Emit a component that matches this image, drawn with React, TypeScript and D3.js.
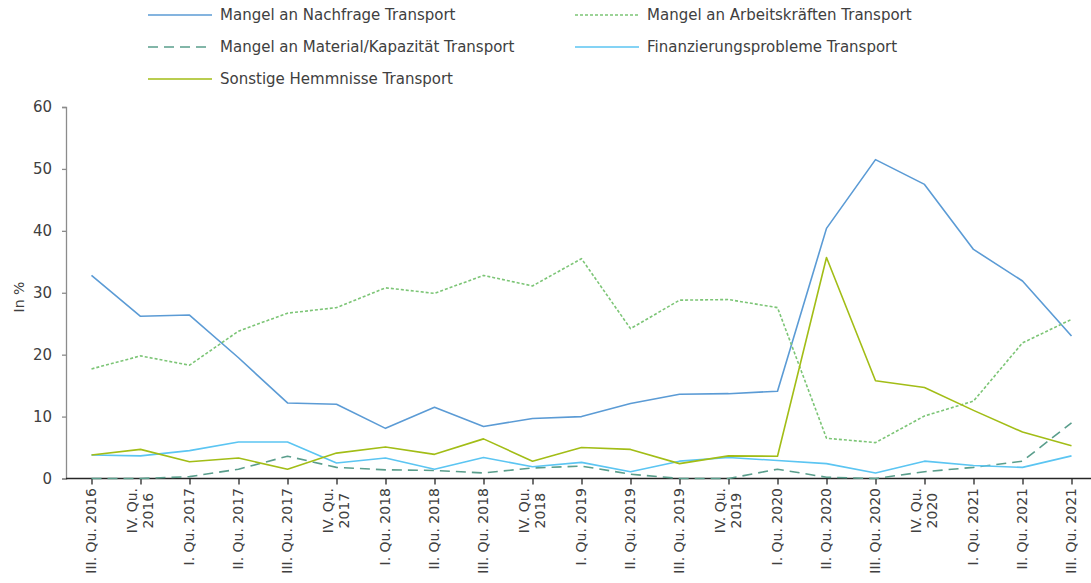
import React, { useEffect, useRef } from 'react';
import { axisBottom, axisLeft, line, scaleLinear, scalePoint, select } from 'd3';

const quarters = [
  'III. Qu. 2016', 'IV. Qu.\n2016', 'I. Qu. 2017', 'II. Qu. 2017', 'III. Qu. 2017', 'IV. Qu.\n2017',
  'I. Qu. 2018', 'II. Qu. 2018', 'III. Qu. 2018', 'IV. Qu.\n2018', 'I. Qu. 2019', 'II. Qu. 2019',
  'III. Qu. 2019', 'IV. Qu.\n2019', 'I. Qu. 2020', 'II. Qu. 2020', 'III. Qu. 2020', 'IV. Qu.\n2020',
  'I. Qu. 2021', 'II. Qu. 2021', 'III. Qu. 2021',
];

const nachfrage = [32.8, 26.2, 26.4, 19.5, 12.2, 12.0, 8.1, 11.5, 8.4, 9.7, 10.0, 12.1, 13.6, 13.7, 14.1, 40.4, 51.5, 47.5, 37.0, 31.9, 23.0];
const arbeitskraefte = [17.7, 19.8, 18.3, 23.8, 26.7, 27.6, 30.8, 29.9, 32.8, 31.1, 35.5, 24.2, 28.8, 28.9, 27.6, 6.5, 5.8, 10.1, 12.5, 21.9, 25.7];
const material = [0, 0, 0.3, 1.5, 3.6, 1.8, 1.4, 1.3, 0.9, 1.7, 2.0, 0.7, 0, 0, 1.5, 0.2, 0, 1.1, 1.8, 2.8, 9.0];
const finanzierung = [3.8, 3.65, 4.5, 5.9, 5.9, 2.5, 3.3, 1.5, 3.4, 1.9, 2.6, 1.1, 2.8, 3.4, 2.9, 2.4, 0.9, 2.8, 2.1, 1.8, 3.65];
const sonstige = [3.8, 4.7, 2.7, 3.3, 1.5, 4.1, 5.1, 3.9, 6.4, 2.8, 5.0, 4.7, 2.4, 3.65, 3.6, 35.7, 15.8, 14.7, 11.0, 7.5, 5.3];

const yTicks = [0, 10, 20, 30, 40, 50, 60];

const series = [
  { name: 'Mangel an Nachfrage Transport', values: nachfrage, color: '#5b9bd5', dash: null },
  { name: 'Mangel an Arbeitskräften Transport', values: arbeitskraefte, color: '#7cc576', dash: '3,2' },
  { name: 'Mangel an Material/Kapazität Transport', values: material, color: '#5a9e8c', dash: '10,6' },
  { name: 'Finanzierungsprobleme Transport', values: finanzierung, color: '#5bc5f2', dash: null },
  { name: 'Sonstige Hemmnisse Transport', values: sonstige, color: '#a2bd16', dash: null },
];

const W = 1091;
const H = 583;
const FONT = '"DejaVu Sans", sans-serif';
const TEXT = '#404040';

export default function App() {
  const svgRef = useRef<SVGSVGElement>(null);

  useEffect(() => {
    const svg = select(svgRef.current);
    svg.selectAll('*').remove();

    const xScale = scalePoint<string>().domain(quarters).range([67, 1096]).padding(0.5);
    const yScale = scaleLinear().domain([0, 60]).range([478.5, 107]);

    // y axis
    const yAxis = axisLeft(yScale).tickValues(yTicks).tickSize(4).tickPadding(10);
    const gy = svg.append('g').attr('transform', 'translate(66,0)').call(yAxis);
    gy.select('.domain').attr('stroke', '#8c8c8c').attr('stroke-width', 1.3);
    gy.selectAll('.tick line').attr('stroke', '#8c8c8c').attr('stroke-width', 1.3);
    gy.selectAll('.tick text')
      .attr('font-family', FONT)
      .attr('font-size', 15)
      .attr('fill', TEXT);

    svg.append('text')
      .attr('transform', 'translate(24,297) rotate(-90)')
      .attr('text-anchor', 'middle')
      .attr('font-family', FONT)
      .attr('font-size', 14)
      .attr('fill', TEXT)
      .text('In %');

    // x axis
    const xAxis = axisBottom(xScale).tickSize(6).tickFormat(() => '');
    const gx = svg.append('g').attr('transform', `translate(0,${yScale(0)})`).call(xAxis);
    gx.select('.domain').attr('d', `M66,0H${W}`).attr('stroke', '#262626').attr('stroke-width', 1.3);
    gx.selectAll('.tick line').attr('stroke', '#262626').attr('stroke-width', 1.3);

    // rotated category labels
    quarters.forEach((q) => {
      const lines = q.split('\n');
      const g = svg.append('g')
        .attr('transform', `translate(${xScale(q)},488) rotate(-90)`);
      if (lines.length === 1) {
        g.append('text')
          .attr('text-anchor', 'end')
          .attr('dy', '0.3em')
          .attr('font-family', FONT)
          .attr('font-size', 14)
          .attr('fill', TEXT)
          .text(q);
      } else {
        const texts = lines.map((l, i) =>
          g.append('text')
            .attr('text-anchor', 'middle')
            .attr('y', i === 0 ? -7.5 : 8)
            .attr('dy', '0.3em')
            .attr('font-family', FONT)
            .attr('font-size', 14)
            .attr('fill', TEXT)
            .text(l));
        const maxLen = Math.max(...texts.map((t) => (t.node() as SVGTextElement).getComputedTextLength()));
        texts.forEach((t) => t.attr('x', -maxLen / 2));
      }
    });

    // lines
    const myLine = line<number>()
      .x((d, i) => xScale(quarters[i]) as number)
      .y((d) => yScale(d));

    series.forEach((s) => {
      svg.append('path')
        .datum(s.values)
        .attr('d', myLine)
        .attr('fill', 'none')
        .attr('stroke', s.color)
        .attr('stroke-width', 1.6)
        .attr('stroke-dasharray', s.dash)
        .attr('stroke-linejoin', 'round');
    });

    // legend
    const legendPos = [
      { x: 148, y: 15 },
      { x: 575, y: 15 },
      { x: 148, y: 47 },
      { x: 575, y: 47 },
      { x: 148, y: 79 },
    ];
    series.forEach((s, i) => {
      const p = legendPos[i];
      const g = svg.append('g').attr('transform', `translate(${p.x},${p.y})`);
      g.append('line')
        .attr('x1', 0).attr('x2', 64)
        .attr('y1', 0).attr('y2', 0)
        .attr('stroke', s.color)
        .attr('stroke-width', 1.6)
        .attr('stroke-dasharray', s.dash);
      g.append('text')
        .attr('x', 72)
        .attr('dy', '0.35em')
        .attr('font-family', FONT)
        .attr('font-size', 15)
        .attr('fill', TEXT)
        .text(s.name);
    });
  }, []);

  return (
    <svg
      ref={svgRef}
      width={W}
      height={H}
      style={{ position: 'absolute', left: 0, top: 0, background: '#fff' }}
    />
  );
}
